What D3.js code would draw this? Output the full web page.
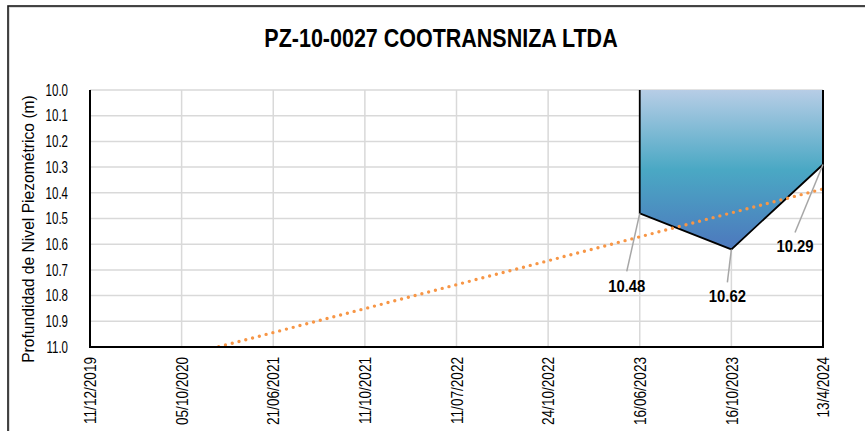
<!DOCTYPE html>
<html>
<head>
<meta charset="utf-8">
<script src="https://cdn.jsdelivr.net/npm/d3@7"></script>
<style>
  body { margin: 0; background: #fff; }
  svg text { font-family: "Liberation Sans", Arial, sans-serif; fill: #000; }
</style>
</head>
<body>
<svg id="chart" width="865" height="431"></svg>
<script>
// chart values
const categories = ["11/12/2019", "05/10/2020", "21/06/2021", "11/10/2021", "11/07/2022",
                    "24/10/2022", "16/06/2023", "16/10/2023", "13/4/2024"];
const depth = [null, null, null, null, null, null, 10.48, 10.62, 10.29];
const yTicks = [10.0, 10.1, 10.2, 10.3, 10.4, 10.5, 10.6, 10.7, 10.8, 10.9, 11.0];
const trendValues = [11.13, 10.385]; // linear trend at first and last category
const title = "PZ-10-0027 COOTRANSNIZA LTDA";
const yTitle = "Profundidad de Nivel Piezométrico (m)";

(function() {
    var plot = { left: 90, right: 823, top: 90, bottom: 347 }

    const svg = d3.select("#chart")

    // text squeezed horizontally, the way Excel's narrow font looks
    function label(parent, tf, str, size, sx, anchor, bold) {
        return parent.append("g")
            .attr("transform", tf + ` scale(${sx},1)`)
            .append("text")
            .attr("dy", "0.36em")
            .attr("text-anchor", anchor)
            .style("font-size", size + "px")
            .style("font-weight", bold ? "bold" : "normal")
            .text(str)
    }

    // outer chart border
    svg.append("rect")
        .attr("x", 9).attr("y", 7)
        .attr("width", 900).attr("height", 500)
        .attr("fill", "none").attr("stroke", "#d0d0d0").attr("stroke-width", 1.5)
    svg.append("rect")
        .attr("x", 8).attr("y", 6)
        .attr("width", 900).attr("height", 500)
        .attr("fill", "none").attr("stroke", "#1a1a1a").attr("stroke-width", 1.6)

    label(svg, "translate(441,38)", title, 25, 0.86, "middle", true)

    const x = d3.scalePoint()
        .domain(d3.range(categories.length))
        .range([plot.left, plot.right])

    const y = d3.scaleLinear()
        .domain([10, 11])
        .range([plot.top, plot.bottom])

    const defs = svg.append("defs")
    const grad = defs.append("linearGradient")
        .attr("id", "areaFill")
        .attr("x1", 0).attr("y1", 0).attr("x2", 0).attr("y2", 1)
    grad.append("stop").attr("offset", "0%").attr("stop-color", "#b7cde6")
    grad.append("stop").attr("offset", "50%").attr("stop-color", "#4aa8c4")
    grad.append("stop").attr("offset", "100%").attr("stop-color", "#4d78bd")

    defs.append("clipPath").attr("id", "plotClip")
        .append("rect")
        .attr("x", plot.left).attr("y", plot.top)
        .attr("width", plot.right - plot.left).attr("height", plot.bottom - plot.top)

    // gridlines
    const grid = svg.append("g")
    grid.selectAll("line.h")
        .data(yTicks)
        .join("line")
        .attr("class", "h")
        .attr("x1", plot.left).attr("x2", plot.right)
        .attr("y1", d => y(d)).attr("y2", d => y(d))
        .attr("stroke", "#d9d9d9").attr("stroke-width", 1.5)
    grid.selectAll("line.v")
        .data(d3.range(categories.length))
        .join("line")
        .attr("class", "v")
        .attr("x1", d => x(d)).attr("x2", d => x(d))
        .attr("y1", plot.top).attr("y2", plot.bottom)
        .attr("stroke", "#d9d9d9").attr("stroke-width", 1.5)

    // area series
    const pts = depth.map((v, i) => ({ i: i, v: v })).filter(d => d.v != null)
    const area = d3.area()
        .x(d => x(d.i))
        .y0(y(10))
        .y1(d => y(d.v))
    svg.append("path")
        .datum(pts)
        .attr("d", area)
        .attr("fill", "url(#areaFill)")

    const outline = [{ i: pts[0].i, v: 10 }].concat(pts).concat([{ i: pts[pts.length - 1].i, v: 10 }])
    svg.append("path")
        .datum(outline)
        .attr("d", d3.line().x(d => x(d.i)).y(d => y(d.v)))
        .attr("fill", "none")
        .attr("stroke", "#000").attr("stroke-width", 1.8)

    // linear trend line
    svg.append("line")
        .attr("clip-path", "url(#plotClip)")
        .attr("x1", x(0)).attr("y1", y(trendValues[0]))
        .attr("x2", x(categories.length - 1)).attr("y2", y(trendValues[1]))
        .attr("stroke", "#f79646").attr("stroke-width", 3.4)
        .attr("stroke-linecap", "round")
        .attr("stroke-dasharray", "0 7")

    // axis lines
    svg.append("path")
        .attr("d", `M${plot.left},${plot.top}V${plot.bottom}H${plot.right}V${plot.top}`)
        .attr("fill", "none").attr("stroke", "#000").attr("stroke-width", 2)

    // y tick labels
    const yg = svg.append("g")
    yTicks.forEach(t => label(yg, `translate(68,${y(t)})`, t.toFixed(1), 16, 0.72, "end"))

    // x tick labels (rotated)
    const xg = svg.append("g")
    categories.forEach((c, i) => label(xg, `translate(${x(i)},357) rotate(-90)`, c, 17, 0.8, "end"))

    label(svg, "translate(28,229) rotate(-90)", yTitle, 17, 0.92, "middle")

    // data labels with leader lines
    const labelOffsets = [[-13, 58, 73], [-4, 33, 47], [-28, 68, 82]]
    pts.forEach((d, k) => {
        const px = x(d.i), py = y(d.v), off = labelOffsets[k]
        svg.append("line")
            .attr("x1", px).attr("y1", py)
            .attr("x2", px + off[0]).attr("y2", py + off[1])
            .attr("stroke", "#a6a6a6").attr("stroke-width", 1.5)
        label(svg, `translate(${px + off[0]},${py + off[2]})`, d.v.toFixed(2), 16.5, 0.9, "middle", true)
    })
})()
</script>
</body>
</html>
